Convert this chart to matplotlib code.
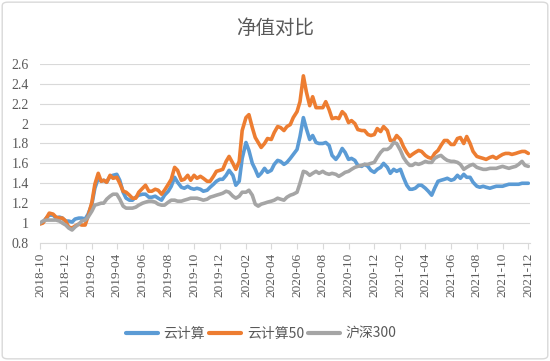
import matplotlib
matplotlib.use("Agg")
import matplotlib.pyplot as plt
import matplotlib.dates as mdates
import pandas as pd
from matplotlib.ticker import FuncFormatter, MultipleLocator
from matplotlib.patches import FancyBboxPatch

# ---- data (weekly readings: days 1, 8, 16, 23 of each month) ----
month_starts = pd.date_range("2018-10-01", "2021-12-01", freq="MS")
week_offsets = [0, 7, 15, 22]
dates = [m + pd.Timedelta(days=d) for m in month_starts[:-1] for d in week_offsets] + [month_starts[-1]]

cloud = [1.00, 1.01, 1.05, 1.08, 1.08, 1.05, 1.06, 1.05, 1.02, 1.02,
         1.01, 1.04, 1.05, 1.05, 1.04, 1.09, 1.19, 1.35, 1.45, 1.42,
         1.43, 1.41, 1.47, 1.48, 1.49, 1.43, 1.31, 1.25, 1.23, 1.23,
         1.26, 1.28, 1.29, 1.29, 1.26, 1.26, 1.27, 1.25, 1.23, 1.28,
         1.32, 1.37, 1.46, 1.41, 1.36, 1.35, 1.37, 1.35, 1.34, 1.35,
         1.34, 1.32, 1.33, 1.36, 1.39, 1.42, 1.44, 1.44, 1.48, 1.53,
         1.48, 1.38, 1.42, 1.65, 1.81, 1.73, 1.60, 1.54, 1.47, 1.50,
         1.55, 1.51, 1.53, 1.59, 1.63, 1.62, 1.59, 1.61, 1.65, 1.69,
         1.74, 1.87, 2.06, 1.95, 1.84, 1.88, 1.81, 1.80, 1.80, 1.81,
         1.78, 1.68, 1.64, 1.68, 1.75, 1.71, 1.64, 1.65, 1.63, 1.58,
         1.57, 1.59, 1.57, 1.53, 1.51, 1.54, 1.56, 1.60, 1.56, 1.50,
         1.54, 1.52, 1.54, 1.46, 1.38, 1.34, 1.34, 1.35, 1.38, 1.38,
         1.35, 1.32, 1.28, 1.35, 1.42, 1.43, 1.44, 1.45, 1.43, 1.44,
         1.48, 1.45, 1.49, 1.46, 1.46, 1.41, 1.37, 1.36, 1.37, 1.36,
         1.35, 1.36, 1.37, 1.37, 1.37, 1.38, 1.39, 1.39, 1.39, 1.39,
         1.40, 1.40, 1.40]

cloud50 = [0.99, 1.00, 1.05, 1.10, 1.09, 1.06, 1.05, 1.05, 1.02, 0.96,
           0.95, 0.97, 0.99, 0.98, 0.98, 1.07, 1.21, 1.39, 1.50, 1.42,
           1.43, 1.41, 1.48, 1.45, 1.46, 1.40, 1.32, 1.31, 1.28, 1.25,
           1.25, 1.31, 1.35, 1.38, 1.32, 1.32, 1.34, 1.33, 1.29, 1.33,
           1.39, 1.44, 1.56, 1.53, 1.43, 1.44, 1.48, 1.43, 1.48, 1.45,
           1.47, 1.45, 1.42, 1.42, 1.47, 1.52, 1.53, 1.54, 1.62, 1.67,
           1.60, 1.54, 1.62, 1.93, 2.06, 2.09, 1.96, 1.86, 1.81, 1.76,
           1.80, 1.85, 1.84, 1.91, 1.97, 1.96, 1.93, 1.97, 1.99, 2.06,
           2.12, 2.22, 2.48, 2.32, 2.18, 2.27, 2.16, 2.16, 2.16, 2.22,
           2.14, 2.05, 2.06, 2.05, 2.12, 2.09, 2.01, 2.03, 2.00, 1.94,
           1.93, 1.93, 1.89, 1.88, 1.89, 1.95, 1.92, 1.97, 1.93, 1.83,
           1.83, 1.88, 1.84, 1.77, 1.71, 1.67, 1.69, 1.71, 1.73, 1.72,
           1.68, 1.66, 1.65, 1.70, 1.73, 1.78, 1.83, 1.83, 1.79, 1.79,
           1.85, 1.86, 1.80, 1.87, 1.80, 1.72, 1.67, 1.66, 1.65, 1.64,
           1.66, 1.67, 1.65, 1.67, 1.69, 1.70, 1.70, 1.69, 1.70, 1.71,
           1.72, 1.72, 1.70]

hs300 = [1.00, 1.02, 1.03, 1.03, 1.03, 1.03, 1.02, 1.00, 0.98, 0.95,
         0.93, 0.96, 0.99, 1.02, 1.03, 1.06, 1.12, 1.18, 1.19, 1.20,
         1.20, 1.24, 1.27, 1.29, 1.29, 1.24, 1.17, 1.15, 1.15, 1.15,
         1.16, 1.18, 1.20, 1.21, 1.22, 1.22, 1.21, 1.19, 1.18, 1.18,
         1.21, 1.23, 1.23, 1.22, 1.22, 1.23, 1.24, 1.25, 1.25, 1.25,
         1.24, 1.23, 1.24, 1.26, 1.27, 1.28, 1.29, 1.30, 1.32, 1.31,
         1.27, 1.25, 1.27, 1.31, 1.31, 1.33, 1.28, 1.19, 1.17, 1.19,
         1.20, 1.21, 1.22, 1.23, 1.25, 1.24, 1.23, 1.26, 1.28, 1.29,
         1.31, 1.40, 1.52, 1.51, 1.48, 1.50, 1.52, 1.50, 1.52, 1.50,
         1.49, 1.50, 1.49, 1.47, 1.49, 1.51, 1.52, 1.54, 1.56, 1.57,
         1.58, 1.59, 1.59, 1.60, 1.61, 1.66, 1.71, 1.74, 1.74, 1.76,
         1.81, 1.80, 1.73, 1.66, 1.61, 1.58, 1.58, 1.60, 1.59, 1.60,
         1.62, 1.61, 1.61, 1.65, 1.67, 1.68, 1.65, 1.63, 1.62, 1.62,
         1.61, 1.59, 1.54, 1.56, 1.58, 1.59, 1.56, 1.55, 1.54, 1.54,
         1.55, 1.55, 1.55, 1.56, 1.57, 1.56, 1.55, 1.56, 1.57, 1.59,
         1.62, 1.58, 1.57]

series_names = ["云计算", "云计算50", "沪深300"]
colors = ["#5B9BD5", "#ED7D31", "#A5A5A5"]
title = "净值对比"

# ---- figure ----
fig = plt.figure(figsize=(5.5, 3.61), dpi=100)
border = FancyBboxPatch((0.004, 0.006), 0.992, 0.988,
                        boxstyle="round,pad=0,rounding_size=0.01",
                        transform=fig.transFigure, fill=False,
                        edgecolor="#D9D9D9", linewidth=1.0)
fig.patches.append(border)

ax = fig.add_axes([0.0727, 0.327, 0.891, 0.496])

for vals, name, c in zip([cloud, cloud50, hs300], series_names, colors):
    ax.plot(dates, vals, color=c, linewidth=2.6, label=name,
            solid_joinstyle="round", solid_capstyle="round")

ax.set_ylim(0.8, 2.6)
ax.yaxis.set_major_locator(MultipleLocator(0.2))
ax.yaxis.set_major_formatter(FuncFormatter(lambda v, p: f"{v:.1f}".rstrip("0").rstrip(".")))
ax.set_xlim(pd.Timestamp("2018-10-01"), pd.Timestamp("2021-12-05"))
ax.xaxis.set_major_locator(mdates.MonthLocator(bymonth=[2, 4, 6, 8, 10, 12]))
ax.xaxis.set_major_formatter(mdates.DateFormatter("%Y-%m"))

ax.grid(axis="y", color="#D9D9D9", linewidth=0.8)
ax.set_axisbelow(True)
for s in ["left", "right", "top"]:
    ax.spines[s].set_visible(False)
ax.spines["bottom"].set_color("#D9D9D9")
ax.spines["bottom"].set_linewidth(0.8)

ax.tick_params(axis="y", length=0, pad=8, labelsize=10, labelcolor="#595959")
ax.tick_params(axis="x", length=4, width=0.8, color="#D9D9D9", pad=3,
               labelsize=9.5, labelcolor="#595959", labelrotation=90)
for lab in ax.get_xticklabels() + ax.get_yticklabels():
    lab.set_family("Liberation Serif")

fig.text(0.5, 0.922, title, ha="center", va="center", fontsize=14,
         color="#595959", family=["Noto Sans CJK SC", "DejaVu Sans"])

leg = fig.legend(loc="center", bbox_to_anchor=(0.475, 0.075), ncol=3,
                 frameon=False, handlelength=2.3, handletextpad=0.4,
                 columnspacing=0.3,
                 prop={"family": ["Noto Sans CJK SC", "DejaVu Sans"], "size": 10})
for t in leg.get_texts():
    t.set_color("#595959")
for h in leg.get_lines():
    h.set_linewidth(3)

fig.savefig("out.png", dpi=100)
